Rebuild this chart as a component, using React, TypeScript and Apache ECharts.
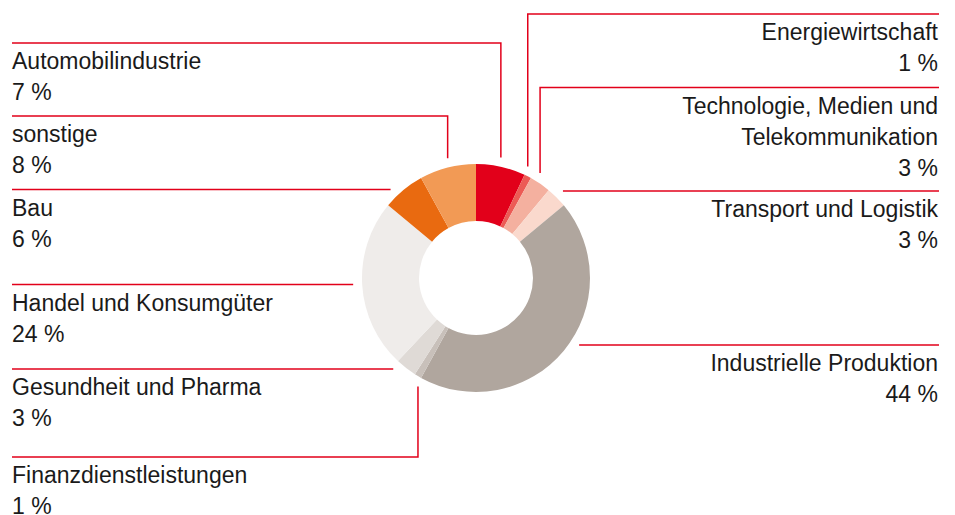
import React, { useEffect, useRef } from "react";
import * as echarts from "echarts";

// ---- data ----
const categories = [
  "Automobilindustrie",
  "Energiewirtschaft",
  "Technologie, Medien und\nTelekommunikation",
  "Transport und Logistik",
  "Industrielle Produktion",
  "Finanzdienstleistungen",
  "Gesundheit und Pharma",
  "Handel und Konsumgüter",
  "Bau",
  "sonstige",
];
const shares = [7, 1, 3, 3, 44, 1, 3, 24, 6, 8];

// ---- styles / layout ----
const sliceColors = [
  "#e2001a",
  "#ec5b55",
  "#f4b09f",
  "#fad9cd",
  "#b0a69e",
  "#c8c0ba",
  "#dfdad6",
  "#efecea",
  "#e96a10",
  "#f29a55",
];
const labelSide = ["left", "right", "right", "right", "right", "left", "left", "left", "left", "left"];
const labelRowY = [43, 14, 87.5, 191, 345, 457, 369, 284.5, 189.5, 116];
const labelElbow = [true, true, true, false, false, true, false, false, false, true];

const CX = 476;
const CY = 278;
const R_IN = 57;
const R_OUT = 114;
const GAP = 9;
const LEFT_X = 12;
const RIGHT_X = 939;
const LINE_COLOR = "#e2001a";
const FONT = "'Liberation Sans', Arial, Helvetica, sans-serif";

export default function App() {
  const ref = useRef<HTMLDivElement>(null);
  useEffect(() => {
    if (!ref.current) return;
    const chart = echarts.init(ref.current, null, { renderer: "svg" });
    chart.setOption({
      animation: false,
      backgroundColor: "#ffffff",
      series: [
        {
          type: "pie",
          center: [CX, CY],
          radius: [R_IN, R_OUT],
          startAngle: 90,
          clockwise: true,
          avoidLabelOverlap: false,
          silent: true,
          itemStyle: { borderWidth: 0 },
          data: categories.map((name, i) => ({
            name,
            value: shares[i],
            itemStyle: { color: sliceColors[i] },
          })),
          label: {
            show: true,
            position: "outside",
            formatter: (p: any) => `${p.name}\n${p.value} %`,
            fontFamily: FONT,
            fontSize: 23,
            lineHeight: 31,
            color: "#1a1a1a",
          },
          labelLine: {
            show: true,
            length: 10,
            length2: 10,
            smooth: false,
            lineStyle: { color: LINE_COLOR, width: 1.5 },
          },
          labelLayout: (params: any) => {
            const i = params.dataIndex;
            const pts = params.labelLinePoints;
            const p0 = pts ? pts[0] : [CX, CY - R_OUT];
            const dx = p0[0] - CX;
            const dy = p0[1] - CY;
            const R = Math.sqrt(dx * dx + dy * dy) || R_OUT;
            const RG = R + GAP;
            const rowY = labelRowY[i];
            const isLeft = labelSide[i] === "left";
            const edgeX = isLeft ? LEFT_X : RIGHT_X;
            let points: number[][];
            if (labelElbow[i]) {
              const ax = p0[0];
              const off = Math.sqrt(Math.max(RG * RG - dx * dx, 0));
              const endY = dy < 0 ? CY - off : CY + off;
              points = [
                [edgeX, rowY],
                [ax, rowY],
                [ax, endY],
              ];
            } else {
              const vy = rowY - CY;
              const off = Math.sqrt(Math.max(RG * RG - vy * vy, 0));
              const endX = isLeft ? CX - off : CX + off;
              points = [
                [edgeX, rowY],
                [endX, rowY],
                [endX, rowY],
              ];
            }
            return {
              x: isLeft ? LEFT_X : RIGHT_X - 1,
              y: rowY + 2.5,
              align: isLeft ? "left" : "right",
              verticalAlign: "top",
              labelLinePoints: points,
            };
          },
        },
      ],
    });
    return () => chart.dispose();
  }, []);
  return (
    <div
      ref={ref}
      style={{ position: "fixed", left: 0, top: 0, width: 955, height: 515 }}
    />
  );
}
